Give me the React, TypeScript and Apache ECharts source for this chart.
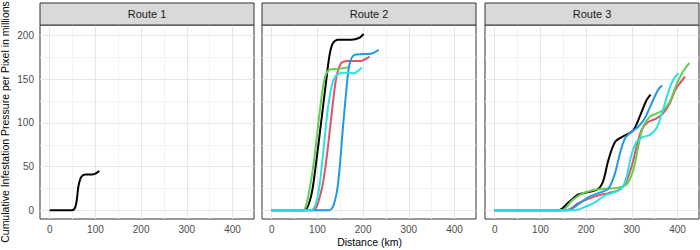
import React, { useEffect, useRef } from "react";
import * as echarts from "echarts";

const routeNames = ["Route 1", "Route 2", "Route 3"];
const xTicks = [0, 100, 200, 300, 400];
const yTicks = [0, 50, 100, 150, 200];
const xMinor = [50, 150, 250, 350];
const yMinor = [25, 75, 125, 175];
const lineColors = ["#000000", "#DF536B", "#61D04F", "#2297E6", "#28E2E5"];
const xTitle = "Distance (km)";
const yTitle = "Cumulative Infestation Pressure per Pixel in millions";

// Route 1
const r1Black = [[0, 0], [30, 0], [49, 0], [56, 3.5], [60, 15], [63, 28], [69, 38], [78, 41], [92.5, 41], [100, 42], [108.5, 45]];

// Route 2
const r2Black = [[0, 0], [40, 0], [72, 0], [86.5, 17], [97.4, 55.6], [108.3, 101.6], [119, 147.6], [126.6, 178], [134, 191.6], [145, 195.4], [174, 195.4], [192, 197.7], [201, 202]];
const r2Red = [[0, 0], [45, 0], [90, 0], [108, 21], [119, 55.6], [130, 105], [141, 151], [152, 168.6], [166.6, 171], [195.6, 171], [206.5, 173.6], [214, 176]];
const r2Green = [[0, 0], [40, 0], [68, 0], [83, 25], [94, 63], [105, 113], [115.7, 151], [126.6, 161], [145, 162], [172, 164]];
const r2Blue = [[0, 0], [60, 0], [126.6, 0], [141, 17], [148.5, 48], [155.7, 94], [163, 136], [170, 166.7], [181, 178], [203, 179], [221, 180], [234, 184]];
const r2Cyan = [[0, 0], [45, 0], [86.5, 0], [101, 17], [112, 63], [123, 117], [134, 147.6], [145, 156], [166.6, 157.6], [181, 157], [192, 161], [197, 163.7]];

// Route 3
const r3Black = [[0, 0], [70, 0], [140, 0], [161.6, 9], [183, 18], [205, 20.7], [227, 24.6], [237.7, 34], [248.5, 57], [263, 78], [281, 84.7], [303, 91.6], [317, 107], [332, 126], [341, 132.6]];
const r3Red = [[0, 0], [80, 0], [158, 0], [183, 8], [205, 13], [227, 17], [248.5, 19.5], [270, 22.6], [284.8, 30], [299, 49], [310, 72], [321, 91.6], [335.5, 101], [353.6, 105], [368, 110.8], [382.6, 122], [397, 139.5], [416.7, 153]];
const r3Green = [[0, 0], [80, 0], [147, 0], [169, 11], [190.6, 19], [212, 22.6], [241, 24.6], [270, 25.7], [288.5, 29.5], [303, 45.6], [313.7, 72], [324.6, 95.4], [339, 107], [353.6, 110.8], [368, 114.6], [382.6, 124], [397, 143], [411.5, 158.6], [426, 169]];
const r3Blue = [[0, 0], [80, 0], [161.6, 0], [183, 7], [205, 15], [227, 19.5], [248.5, 24.6], [263, 42], [274, 65], [284.8, 82], [299, 89.7], [313.7, 95.4], [328, 105], [343, 122], [357, 137.6], [366, 143]];
const r3Cyan = [[0, 0], [90, 0], [176, 0], [198, 4], [219.6, 9], [241, 17], [263, 20.7], [277.6, 24.6], [288.5, 38], [299, 63], [310, 78], [324.6, 84], [339, 86], [353.6, 93.6], [364.6, 109], [379, 134], [390, 149], [402, 157]];

const routeSeries = [
  [r1Black],
  [r2Black, r2Red, r2Green, r2Blue, r2Cyan],
  [r3Black, r3Red, r3Green, r3Blue, r3Cyan],
];

const FONT = "'Liberation Sans', Arial, Helvetica, sans-serif";

export default function App() {
  const ref = useRef<HTMLDivElement>(null);
  useEffect(() => {
    if (!ref.current) return;
    const chart = echarts.init(ref.current, null, { renderer: "svg" });

    const panelLefts = [40, 262, 485];
    const panelWidth = 214;
    const panelTop = 25;
    const panelHeight = 194;
    const stripTop = 3;

    const grids = panelLefts.map((l) => ({
      left: l,
      top: panelTop,
      width: panelWidth,
      height: panelHeight,
      show: true,
      backgroundColor: "#ffffff",
      borderColor: "#333333",
      borderWidth: 1,
      containLabel: false,
    }));

    const xAxes = panelLefts.map((_, i) => ({
      type: "value",
      gridIndex: i,
      min: -21.3,
      max: 447,
      splitLine: { show: false },
      axisLine: { show: false },
      axisTick: {
        show: true,
        customValues: xTicks,
        length: 3,
        lineStyle: { color: "#333333", width: 1 },
      },
      axisLabel: {
        show: true,
        customValues: xTicks,
        color: "#4d4d4d",
        fontSize: 10,
        fontFamily: FONT,
        margin: 5,
      },
    }));

    const yAxes = panelLefts.map((_, i) => ({
      type: "value",
      gridIndex: i,
      min: -10.1,
      max: 212.3,
      splitLine: { show: false },
      axisLine: { show: false },
      axisTick: {
        show: i === 0,
        customValues: yTicks,
        length: 3,
        lineStyle: { color: "#333333", width: 1 },
      },
      axisLabel: {
        show: i === 0,
        customValues: yTicks,
        color: "#4d4d4d",
        fontSize: 10,
        fontFamily: FONT,
        margin: 6,
      },
    }));

    const series: any[] = [];
    panelLefts.forEach((_, i) => {
      const minorStyle = { color: "#f3f3f3", width: 1, type: "solid" };
      const majorStyle = { color: "#e6e6e6", width: 1, type: "solid" };
      series.push({
        type: "line",
        xAxisIndex: i,
        yAxisIndex: i,
        data: [],
        silent: true,
        z: 1,
        markLine: {
          silent: true,
          z: 1,
          symbol: ["none", "none"],
          label: { show: false },
          emphasis: { disabled: true },
          animation: false,
          lineStyle: { type: "solid" },
          data: [
            ...xMinor.map((v) => ({ xAxis: v, lineStyle: minorStyle })),
            ...yMinor.map((v) => ({ yAxis: v, lineStyle: minorStyle })),
            ...xTicks.map((v) => ({ xAxis: v, lineStyle: majorStyle })),
            ...yTicks.map((v) => ({ yAxis: v, lineStyle: majorStyle })),
          ],
        },
      });
      routeSeries[i].forEach((d, k) => {
        series.push({
          type: "line",
          xAxisIndex: i,
          yAxisIndex: i,
          data: d,
          smooth: 0.3,
          showSymbol: false,
          symbol: "none",
          z: 3 + k,
          lineStyle: { color: lineColors[k], width: 2 },
          itemStyle: { color: lineColors[k] },
          emphasis: { disabled: true },
        });
      });
    });

    const graphics: any[] = [];
    panelLefts.forEach((l, i) => {
      graphics.push({
        type: "rect",
        shape: { x: l, y: stripTop, width: panelWidth, height: panelTop - stripTop },
        style: { fill: "#d9d9d9", stroke: "#333333", lineWidth: 1 },
        z: 10,
      });
      graphics.push({
        type: "text",
        x: l + panelWidth / 2,
        y: (stripTop + panelTop) / 2,
        style: {
          text: routeNames[i],
          fill: "#1a1a1a",
          fontSize: 11,
          fontFamily: FONT,
          textAlign: "center",
          textVerticalAlign: "middle",
        },
        z: 11,
      });
    });
    graphics.push({
      type: "text",
      x: (panelLefts[0] + panelLefts[2] + panelWidth) / 2,
      y: 242,
      style: {
        text: xTitle,
        fill: "#000000",
        fontSize: 10.5,
        fontFamily: FONT,
        textAlign: "center",
        textVerticalAlign: "middle",
      },
    });
    graphics.push({
      type: "text",
      x: 5,
      y: panelTop + panelHeight / 2,
      rotation: Math.PI / 2,
      style: {
        text: yTitle,
        fill: "#000000",
        fontSize: 10.5,
        fontFamily: FONT,
        textAlign: "center",
        textVerticalAlign: "middle",
      },
    });

    chart.setOption({
      animation: false,
      backgroundColor: "#ffffff",
      textStyle: { fontFamily: FONT },
      grid: grids,
      xAxis: xAxes,
      yAxis: yAxes,
      series,
      graphic: graphics,
    });
    return () => chart.dispose();
  }, []);
  return (
    <div
      ref={ref}
      style={{ position: "fixed", left: 0, top: 0, width: 700, height: 250 }}
    />
  );
}
